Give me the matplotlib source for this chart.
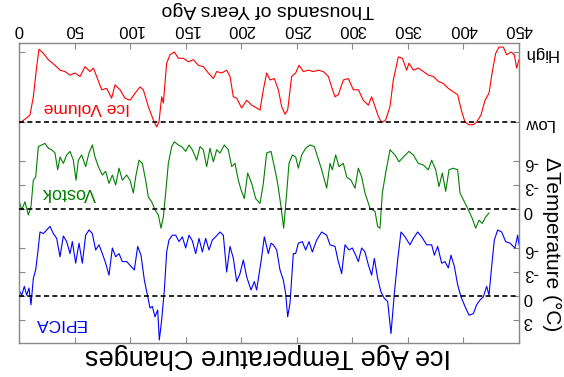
import numpy as np
import matplotlib
matplotlib.use('Agg')
import matplotlib.pyplot as plt

plt.rcParams['font.family'] = ['Liberation Sans', 'DejaVu Sans']

# relative ice volume, 0 = Low, 1 = High
ice_kyr = [0, 5.4, 9.9, 12.9, 15.9, 18, 21.9, 26.4, 32.4, 36.9, 41.4, 45.9, 50.4, 54.9,
           59.4, 63.9, 66.9, 69.9, 74.4, 78.9, 83.4, 86.4, 90.9, 95.4, 99.9, 104.4, 108.9,
           111.9, 116.4, 120.9, 123.9, 126, 128.4, 129.9, 132.9, 135.9, 139.8, 143.4, 147.9,
           152.4, 156.9, 161.4, 165.9, 170.4, 174.9, 177.9, 182.4, 186.9, 189.9, 192.9,
           195.9, 200.4, 204.9, 209.4, 213.9, 216.9, 219.9, 222.9, 225.9, 229.8, 233.4,
           236.4, 239.4, 241.8, 245.4, 249, 252, 255.9, 260.4, 264.9, 269.4, 273.9, 278.4,
           281.4, 284.4, 287.4, 291.9, 296.4, 300.9, 305.4, 309.9, 314.4, 317.4, 320.4,
           323.4, 326.4, 330, 333.9, 336.9, 341.4, 345, 348.9, 351, 354.9, 359.4, 363.9,
           368.4, 372.9, 377.4, 381.9, 386.4, 390.9, 394.8, 398.4, 401.4, 405, 408.9,
           411.9, 415.8, 419.4, 423, 426, 429, 432, 435.9, 438.9, 442.8, 445.8, 447.9, 450]
ice_vol = [-0.02, 0.04, 0.10, 0.36, 0.79, 1.04, 0.98, 0.89, 0.81, 0.74, 0.72, 0.67, 0.70, 0.65,
           0.79, 0.72, 0.77, 0.65, 0.46, 0.48, 0.34, 0.53, 0.46, 0.34, 0.31, 0.41, 0.50,
           0.46, 0.22, 0.03, -0.07, 0.00, 0.36, 0.27, 0.84, 0.96, 1.00, 0.91, 0.91,
           0.86, 0.89, 0.81, 0.79, 0.70, 0.62, 0.72, 0.70, 0.74, 0.65, 0.36,
           0.34, 0.20, 0.31, 0.24, 0.20, 0.17, 0.46, 0.70, 0.60, 0.62, 0.46,
           0.22, 0.11, 0.17, 0.65, 0.70, 0.81, 0.72, 0.74, 0.72, 0.74, 0.72, 0.65,
           0.50, 0.36, 0.39, 0.60, 0.62, 0.46, 0.46, 0.31, 0.24, 0.36, 0.22,
           0.08, -0.01, 0.03, 0.22, 0.60, 0.93, 0.91, 0.74, 0.84, 0.74, 0.77, 0.72,
           0.67, 0.65, 0.58, 0.55, 0.48, 0.43, 0.39, 0.15, 0.00, -0.04, -0.04,
           0.00, 0.10, 0.31, 0.41, 0.72, 0.98, 1.07, 1.07, 0.96, 1.00, 0.96, 0.77, 0.89]

# Vostok temperature anomaly (deg C)
vostok_kyr = [0, 2.4, 5.4, 8.4, 10.8, 12.9, 15, 17.4, 20.4, 23.4, 26.4, 29.4, 32.4, 34.8,
              36.9, 39.9, 42.9, 45.9, 48.9, 51.3, 53.4, 56.4, 60, 63, 66, 68.4, 71.4, 75,
              78, 81, 84, 87, 90, 93, 96.9, 99.9, 102.9, 105, 108, 111, 114, 116.4, 119.4,
              122.4, 125.4, 127.8, 129.9, 132, 134.4, 137.4, 139.8, 143.4, 146.4, 150,
              153, 156, 159.9, 162.9, 165.9, 168.9, 171.9, 174.9, 177.9, 180.9, 184.8,
              188.4, 191.4, 194.4, 197.4, 199.8, 202.8, 205.8, 209.4, 213, 216.9, 219.9,
              222.9, 226.8, 229.8, 232.8, 235.8, 238.2, 240.9, 243, 246, 249, 251.4,
              254.4, 258, 261.9, 265.8, 268.8, 272.4, 276.9, 279.9, 282, 285, 288, 291.9,
              294.9, 298.8, 302.4, 305.4, 308.4, 311.4, 315.9, 320.4, 322.8, 324.9, 327,
              330, 333.9, 338.4, 342, 345.9, 351, 354.9, 359.4, 363.9, 368.4, 371.4, 375,
              378, 381, 384, 387, 390.9, 394.8, 396.9, 400.8, 404.4, 408, 411, 414, 417,
              420, 423]
vostok_t = [-1.1, 0.1, -0.9, 0.75, -0.3, -3.6, -4.0, -7.8, -8.0, -8.2, -7.6, -7.4, -7.0, -4.9,
            -6.5, -5.7, -6.75, -7.2, -6.1, -3.6, -6.1, -6.75, -5.3, -7.0, -8.0, -6.5, -5.3, -4.25,
            -4.7, -3.2, -4.25, -3.0, -5.1, -3.6, -4.25, -3.6, -2.0, -4.0, -6.1, -5.7, -3.6, -1.5, -0.9,
            0.1, 0.75, 2.4, 1.0, -2.0, -5.7, -7.8, -8.4, -8.0, -7.8, -7.2,
            -8.0, -7.4, -6.1, -7.8, -7.4, -5.3, -7.6, -5.9, -7.4, -7.0, -8.0,
            -7.4, -5.3, -5.7, -3.6, -2.4, -1.3, -4.5, -3.2, -1.3, -0.7, -3.2,
            -7.0, -7.2, -5.3, -3.2, -0.3, 2.4, -2.0, -5.7, -6.75, -6.5, -5.1,
            -6.75, -7.6, -8.0, -7.8, -6.5, -4.9, -2.6, -5.7, -4.9, -6.75, -5.3, -5.7,
            -4.0, -3.6, -2.6, -5.1, -4.0, -2.0, -0.1, 0.3, 2.2, 2.4, -2.0,
            -4.5, -7.4, -6.75, -5.9, -6.5, -7.2, -6.75, -5.7, -5.5, -4.9, -6.1, -4.9,
            -2.8, -4.5, -2.2, -4.9, -5.1, -4.9, -2.0, -0.9, 0.1, 1.2, 2.4, 1.4, 1.8,
            1.0, 0.5]

# EPICA temperature anomaly (deg C)
epica_kyr = [0, 2.4, 4.8, 6.9, 9, 10.8, 12.9, 15, 16.8, 18.9, 21.9, 24.9, 27.9, 30.9, 33.9,
             36.9, 39.9, 42.9, 45.9, 48, 51, 54, 57, 60, 63, 66, 69, 72, 75, 78, 81, 84, 87,
             90, 93, 96.9, 100.8, 103.8, 106.8, 109.8, 112.8, 115.8, 117.9, 120, 122.4,
             124.8, 126.3, 128.4, 130.8, 132.9, 135, 138, 141, 144, 147, 150, 153, 156,
             159, 162, 165, 168, 171, 174, 177, 180.9, 183.9, 186.9, 189.9, 192.9, 195.9,
             198.9, 201.9, 204.9, 208.8, 211.8, 213.9, 217.8, 220.8, 224.4, 226.8, 228.9,
             231.9, 234.9, 237.9, 240, 241.8, 243.9, 246.9, 249, 251.4, 255, 258, 261, 264,
             267.9, 272.4, 276.9, 279.9, 284.4, 287.4, 290.4, 293.4, 297, 300, 303, 305.4,
             308.4, 311.4, 314.4, 317.4, 319.8, 322.8, 325.8, 328.8, 331.8, 334.8, 337.8,
             340.8, 343.8, 347.4, 351.9, 354.9, 358.8, 362.4, 366.9, 371.4, 373.8, 376.8,
             380.4, 383.4, 386.4, 388.8, 391.8, 394.8, 397.8, 401.4, 405, 408.9, 411.9,
             414.9, 417.9, 420.9, 423, 425.4, 427.8, 430.8, 434.4, 438, 441.9, 446.4, 448.8,
             450]
epica_t = [-0.75, -0.1, -1.2, -0.1, -1.0, 1.1, -2.2, -3.25, -5.3, -8.0, -7.8, -8.25, -8.7, -7.8, -7.2,
           -4.9, -7.5, -6.8, -5.3, -6.8, -4.1, -6.6, -4.1, -7.6, -8.25, -7.8, -5.75, -6.4, -5.3, -4.1, -2.6, -6.0, -4.9,
           -5.3, -4.3, -4.3, -3.7, -3.25, -6.2, -5.1, -2.0, 0.1, 1.5, 1.3, 2.6,
           1.75, 5.5, 3.0, -0.75, -5.5, -7.0, -7.6, -7.6, -6.8, -7.4, -6.0, -7.6, -6.9,
           -5.3, -7.2, -5.5, -7.2, -5.75, -7.0, -7.4, -8.0, -7.6, -3.0, -6.2, -4.7, -1.8,
           -2.8, -4.5, -2.4, -0.75, -1.8, -0.75, -4.3, -7.4, -5.3, -6.6, -6.4,
           -5.75, -3.25, -2.0, -0.3, 2.6, 0.9, -5.3, -5.3, -6.6, -6.8, -5.75, -6.8, -5.5,
           -7.0, -8.0, -7.6, -6.4, -6.2, -4.3, -2.8, -6.4, -5.75, -6.0, -5.1, -4.3,
           -6.0, -5.5, -3.9, -2.6, -4.7, -2.2, -0.5, 0.3, 0.7, 4.7, -0.3,
           -4.5, -8.0, -7.4, -6.4, -7.2, -8.0, -7.4, -6.4, -6.4, -5.1, -6.2,
           -4.1, -4.3, -3.5, -5.1, -3.7, -1.4, 0.1, 1.3, 2.4, 2.2, 1.1,
           0.5, 0.1, -1.2, -0.1, -3.7, -7.0, -8.25, -8.0, -6.8, -6.6, -6.0, -7.6,
           -6.4]

vostok_ticks = [0, -3, -6]
epica_ticks = [3, 0, -3, -6]
x_ticks = list(range(0, 451, 50))

# stacking of the three panels on one (inverted) y axis
VOSTOK_OFF = -10.875
ICE_LOW = -21.75
ICE_SPAN = 8.75

fig = plt.figure(figsize=(5.64, 3.77), dpi=100)
ax = fig.add_axes([0.0337, 0.0902, 0.8865, 0.7958])

ice_y = ICE_LOW - ICE_SPAN * np.array(ice_vol)
vostok_y = np.array(vostok_t) + VOSTOK_OFF
ax.plot(ice_kyr, ice_y, color='#ff0000', lw=0.8)
ax.plot(vostok_kyr, vostok_y, color='#008000', lw=0.8)
ax.plot(epica_kyr, epica_t, color='#0000ff', lw=0.8)

for lvl in [ICE_LOW, VOSTOK_OFF, 0]:
    ax.axhline(lvl, color='black', lw=1.2, ls=(0, (3, 2)), zorder=3)

ax.set_xlim(0, 450)
ax.set_ylim(5.875, -31.625)

# ticks
ax.set_xticks(x_ticks)
ax.set_xticklabels([str(t) for t in x_ticks])
yt = [ICE_LOW - ICE_SPAN, ICE_LOW] + [v + VOSTOK_OFF for v in vostok_ticks] + epica_ticks
ylab = ['High', 'Low'] + [str(v) for v in vostok_ticks] + [str(v) for v in epica_ticks]
ax.set_yticks(yt)
ax.set_yticklabels(ylab)
ax.tick_params(axis='x', top=True, bottom=True, labeltop=True, labelbottom=False,
               direction='in', length=4, color='#888888', labelsize=12, pad=4,
               labelrotation=180)
ax.tick_params(axis='y', left=True, right=True, labelleft=False, labelright=True,
               direction='in', length=4, color='#888888', labelsize=12, pad=3,
               labelrotation=180)
for s in ax.spines.values():
    s.set_color('#888888')
    s.set_linewidth(1.0)

# panel labels
ax.text(60.8, -23.6, 'Ice Volume', color='#ff0000', fontsize=12.5,
        rotation=180, ha='center', va='center')
ax.text(45, -12.9, 'Vostok', color='#008000', fontsize=13,
        rotation=180, ha='center', va='center')
ax.text(36.5, 3.4, 'EPICA', color='#0000ff', fontsize=12.5,
        rotation=180, ha='center', va='center')

fig.text(0.475, 0.975, 'Thousands of Years Ago', fontsize=14, rotation=180,
         ha='center', va='center')
fig.text(0.978, 1 - 244 / 377, '\u0394Temperature (\u00b0C)', fontsize=15, rotation=270,
         ha='center', va='center')
fig.text(0.475, 0.056, 'Ice Age Temperature Changes', fontsize=19.5, rotation=180,
         ha='center', va='center')

fig.savefig('out.png', dpi=100)
